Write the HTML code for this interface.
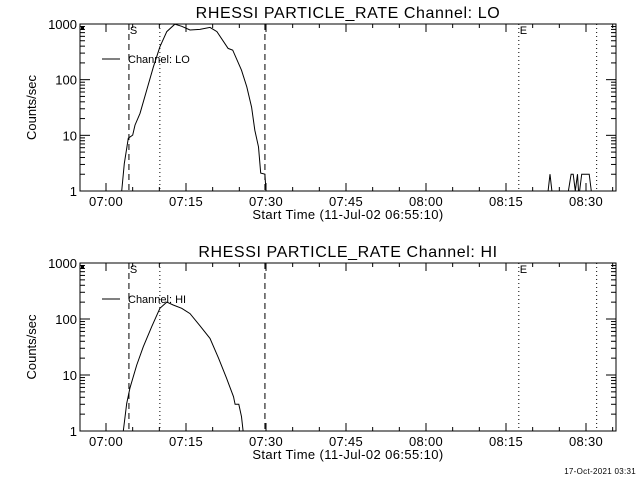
<!DOCTYPE html>
<html><head><meta charset="utf-8"><style>
body{margin:0;background:#fff}
svg{display:block}
text{font-family:"Liberation Sans",sans-serif;fill:#000}
</style></head><body>
<svg id="c" width="640" height="480" xmlns="http://www.w3.org/2000/svg">
<text x="636" y="474" font-size="8" text-anchor="end" letter-spacing="0.3">17-Oct-2021 03:31</text>
</svg>
<script>
// minutes after 07:00
const loTimes=[2.94,3.44,4.19,5.0,5.44,6.38,7.63,8.88,10.1,11.4,12.9,14.2,15.75,17.6,19.5,20.8,22.9,23.75,25.4,26.4,27.3,27.9,28.6,29.0,29.8,30.0];
const loValues=[1,3.1,8.9,10.1,15.3,24.8,65,170,390,730,990,910,780,800,870,730,365,340,148,74,32,12.4,6.2,2.1,2.0,1];
const loSpikeTimes=[82.9,83.25,83.6,86.7,87.2,87.6,88.0,88.4,88.6,88.8,89.2,89.5,90.1,90.6,91.0];
const loSpikeValues=[1,2,1,1,2,2,1,2,1,1,2,2,2,2,1];
const hiTimes=[3.25,3.88,4.5,5.75,7.0,8.56,10.1,11.4,12.6,14.2,15.75,17.6,19.5,21.1,22.6,23.9,24.2,24.9,25.4,25.7];
const hiValues=[1,3.1,5.9,15,32,73,155,200,178,155,125,76,45,20,8.8,4.1,3.0,3.0,1.8,1];
const xTickLabels=["07:00","07:15","07:30","07:45","08:00","08:15","08:30"];
const xTickMins=[0,15,30,45,60,75,90];
const yTickLabels=["1","10","100","1000"];
const yTickVals=[1,10,100,1000];
const dashedLines=[4.3,29.8];
const dottedLines=[10.1,77.4,92.0];

const svg=document.getElementById('c');
const NS='http://www.w3.org/2000/svg';
function mk(tag,attrs,parent){const e=document.createElementNS(NS,tag);for(const k in attrs)e.setAttribute(k,attrs[k]);(parent||svg).appendChild(e);return e;}
const X0=80,X1=616;
function xs(m){return 106+m*5.3333;}
function panel(top,bot,title,label,series,legY){
  const ys=v=>bot-Math.log10(Math.max(v,1))*(bot-top)/3;
  const g=mk('g',{});
  
  
  const t=mk('text',{x:348,y:top-6,'font-size':16,'text-anchor':'middle','letter-spacing':0.6},g);t.textContent=title;
  
  const r=mk('rect',{x:X0,y:top,width:X1-X0,height:bot-top,fill:'none',stroke:'#000','stroke-width':1},g);
  
  for(let m=-5;m<=96;m+=5){const x=xs(m);if(x<=X0||x>=X1)continue;const L=(m%15===0)?8:4;
    mk('line',{x1:x,x2:x,y1:bot,y2:bot-L,stroke:'#000'},g);mk('line',{x1:x,x2:x,y1:top,y2:top+L,stroke:'#000'},g);}
  xTickMins.forEach((m,i)=>{const tt=mk('text',{x:xs(m),y:bot+15,'font-size':13,'text-anchor':'middle','letter-spacing':0.3},g);tt.textContent=xTickLabels[i];
    });
  const xl=mk('text',{x:348,y:bot+28,'font-size':13,'text-anchor':'middle','letter-spacing':0.4},g);xl.textContent='Start Time (11-Jul-02 06:55:10)';
  
  for(let d=0;d<3;d++)for(let k=1;k<=10;k++){const v=k*Math.pow(10,d);if(k===10&&d<2)continue;const y=ys(v);const L=(k===1||k===10)?10:5;
    mk('line',{x1:X0,x2:X0+L,y1:y,y2:y,stroke:'#000'},g);mk('line',{x1:X1,x2:X1-L,y1:y,y2:y,stroke:'#000'},g);}
  yTickVals.forEach((v,i)=>{const tt=mk('text',{x:X0-3,y:ys(v)+5,'font-size':13,'text-anchor':'end'},g);tt.textContent=yTickLabels[i];
    });
  const yl=mk('text',{x:0,y:0,'font-size':13,'text-anchor':'middle',transform:`translate(36,${(top+bot)/2}) rotate(-90)`},g);yl.textContent='Counts/sec';
  
  dashedLines.forEach(m=>mk('line',{x1:xs(m),x2:xs(m),y1:top,y2:bot,stroke:'#000','stroke-dasharray':'6,4'},g));
  dottedLines.forEach(m=>mk('line',{x1:xs(m),x2:xs(m),y1:top,y2:bot,stroke:'#000','stroke-dasharray':'1,3'},g));
  const s=mk('text',{x:xs(4.3)+1,y:top+10,'font-size':11},g);s.textContent='S';
  
  const e=mk('text',{x:xs(77.4)+1,y:top+10,'font-size':11},g);e.textContent='E';
  
  mk('rect',{x:X0+1,y:top+2,width:3,height:4,fill:'#000'},g);
  series.forEach(([ts,vs])=>{const p=mk('polyline',{points:ts.map((m,i)=>xs(m).toFixed(1)+','+ys(vs[i]).toFixed(1)).join(' '),fill:'none',stroke:'#000','stroke-width':1},g);
    });
  mk('line',{x1:102,x2:120,y1:legY,y2:legY,stroke:'#000'},g);
  const lt=mk('text',{x:128,y:legY+4,'font-size':11},g);lt.textContent='Channel: '+label;
  
}
panel(24,191,'RHESSI PARTICLE_RATE Channel: LO','LO',[[loTimes,loValues],[loSpikeTimes,loSpikeValues]],59);
panel(263,431,'RHESSI PARTICLE_RATE Channel: HI','HI',[[hiTimes,hiValues]],299);
</script>
</body></html>
